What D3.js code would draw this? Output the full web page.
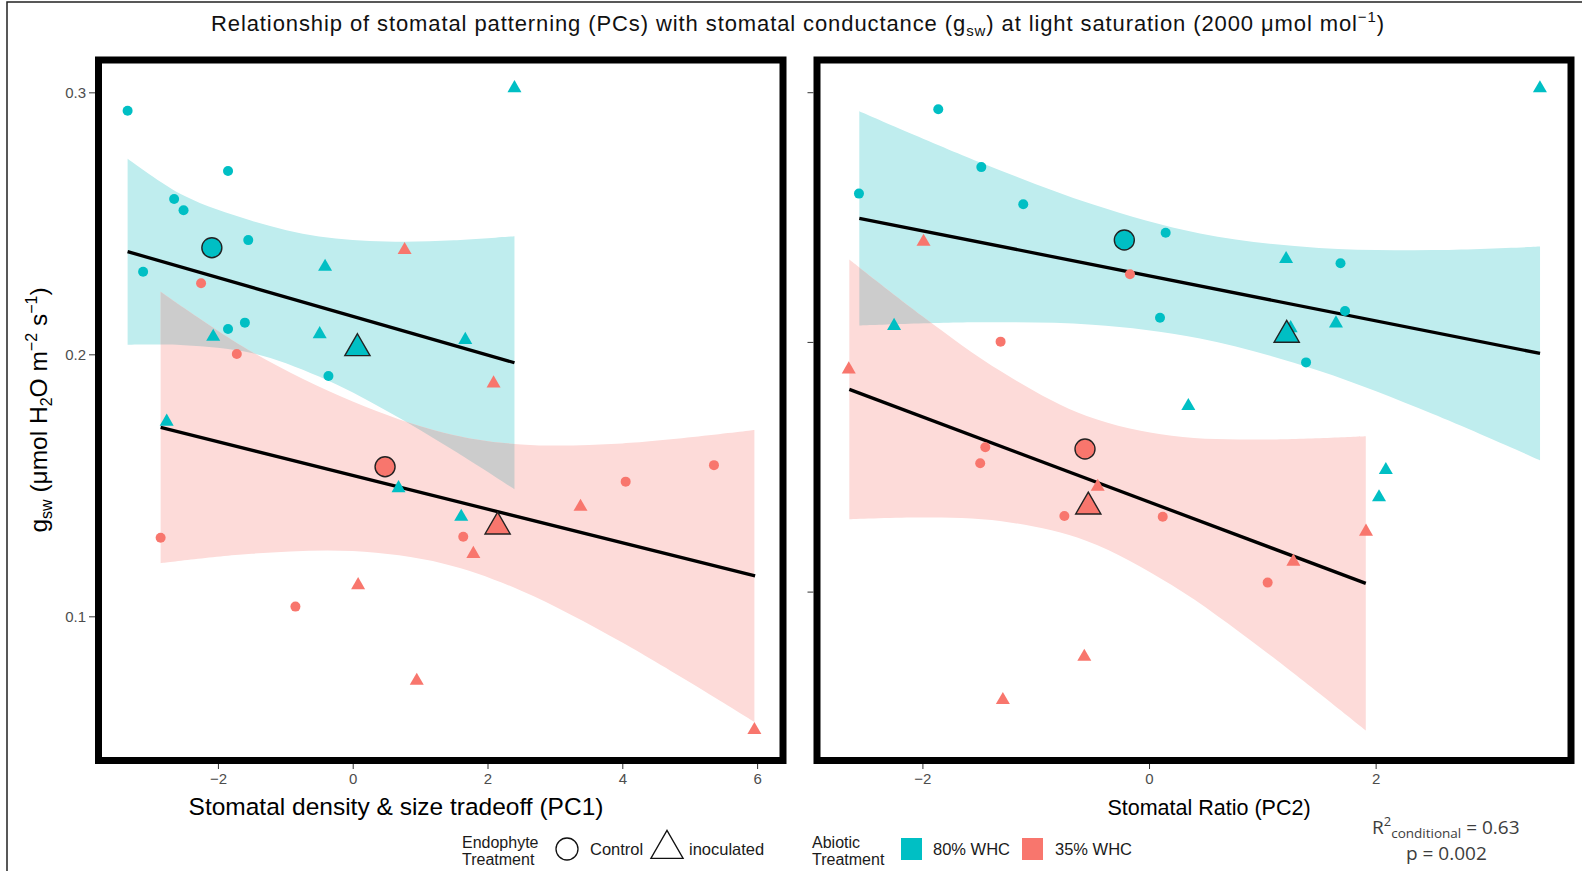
<!DOCTYPE html>
<html>
<head>
<meta charset="utf-8">
<script src="https://cdn.jsdelivr.net/npm/d3@7"></script>
<style>
  body { margin: 0; background: #fff; }
  svg { display: block; font-family: "Liberation Sans", Arial, sans-serif; }
</style>
</head>
<body>
<div id="root"></div>
<script>
// ---- data: [PC, gsw] ----
// PC1 panel
let left80Control = [[-3.34, 0.293], [-1.85, 0.270], [-2.65, 0.2593], [-2.51, 0.255], [-1.55, 0.2436], [-3.11, 0.2315], [-1.85, 0.2097], [-1.60, 0.2121], [-0.36, 0.1917]];
let left80Inoc = [[2.40, 0.3016], [-0.41, 0.2334], [-0.49, 0.2077], [-2.07, 0.2067], [1.67, 0.2055], [-2.76, 0.1743], [0.68, 0.1489], [1.61, 0.138]];
let left35Control = [[-2.25, 0.2271], [-1.72, 0.2001], [-2.85, 0.130], [-0.85, 0.1037], [1.64, 0.1304], [4.05, 0.1514], [5.36, 0.1577]];
let left35Inoc = [[0.77, 0.2398], [2.09, 0.1889], [3.38, 0.1418], [1.79, 0.1238], [0.08, 0.1119], [0.95, 0.0754], [5.96, 0.0566]];
// group means: 80 control, 80 inoculated, 35 control, 35 inoculated
let leftMeans = [[-2.09, 0.2407], [0.07, 0.2023], [0.48, 0.1571], [2.15, 0.1342]];
let leftFit80 = [[-3.34, 0.2392], [2.40, 0.1968]];
let leftFit35 = [[-2.85, 0.1721], [5.97, 0.1154]];
// confidence bands: [PC, lower, upper]
let leftBand80 = [[-3.34, 0.2037, 0.2747], [-2.5, 0.2035, 0.2605], [-1.5, 0.2005, 0.2510], [-0.5, 0.1915, 0.2450], [0.5, 0.1785, 0.2431], [1.5, 0.1633, 0.2435], [2.40, 0.1485, 0.2451]];
let leftBand35 = [[-2.85, 0.1203, 0.2239], [-1.5, 0.1239, 0.2010], [0, 0.1249, 0.1820], [1.35, 0.1201, 0.1701], [2.5, 0.1098, 0.1656], [4, 0.0900, 0.1660], [5.96, 0.0597, 0.1711]];

// PC2 panel
let right80Control = [[-1.86, 0.2932], [-2.56, 0.2594], [-1.48, 0.270], [-1.11, 0.2551], [0.147, 0.2437], [0.097, 0.2097], [1.69, 0.2315], [1.73, 0.2124], [1.386, 0.1918]];
let right80Inoc = [[3.45, 0.3016], [1.21, 0.2332], [1.65, 0.2074], [-2.25, 0.2064], [1.25, 0.2055], [0.347, 0.1743], [2.09, 0.1487], [2.03, 0.1378]];
let right35Control = [[-0.168, 0.2271], [-1.31, 0.2001], [-1.445, 0.1578], [-1.49, 0.1514], [-0.747, 0.1303], [0.121, 0.130], [1.047, 0.1036]];
let right35Inoc = [[-1.99, 0.2401], [-2.65, 0.189], [-0.453, 0.142], [1.274, 0.112], [1.915, 0.124], [-0.571, 0.0739], [-1.29, 0.0566]];
let rightMeans = [[-0.218, 0.2408], [1.215, 0.2028], [-0.565, 0.1571], [-0.536, 0.134]];
let rightFit80 = [[-2.557, 0.2495], [3.451, 0.1954]];
let rightFit35 = [[-2.645, 0.181], [1.913, 0.1033]];
let rightBand80 = [[-2.557, 0.2066, 0.2924], [-1.5, 0.2079, 0.2721], [-0.5, 0.2069, 0.2551], [0.45, 0.2014, 0.2434], [1.5, 0.1884, 0.2376], [2.5, 0.1712, 0.2368], [3.451, 0.1526, 0.2382]];
let rightBand35 = [[-2.645, 0.129, 0.233], [-2, 0.1297, 0.2103], [-1.3, 0.1282, 0.188], [-0.55, 0.1203, 0.1703], [0.2, 0.1026, 0.1624], [1, 0.0769, 0.1609], [1.913, 0.0444, 0.1622]];

// ticks and labels
let leftXTicks = [-2, 0, 2, 4, 6];
let rightXTicks = [-2, 0, 2];
let yTicks = [0.1, 0.2, 0.3];
let waterLabels = ["80% WHC", "35% WHC"];
let endoLabels = ["Control", "inoculated"];

const teal = "#00BFC4", red = "#F8766D";
const tealBand = "#BFEDEE", redBand = "#FDDBD9", overlap = "#CCCCCC";

let svg = d3
  .select("#root")
  .append("svg")
  .attr("width", 1582)
  .attr("height", 871);

// outer frame of the figure
svg.append("rect")
  .attr("x", 7).attr("y", 2)
  .attr("width", 1600).attr("height", 900)
  .attr("fill", "none").attr("stroke", "#222").attr("stroke-width", 1.5);

// title
let title = svg.append("text")
  .attr("x", 798).attr("y", 31)
  .attr("text-anchor", "middle")
  .attr("font-size", 22)
  .attr("letter-spacing", 0.9)
  .attr("fill", "#111");
title.append("tspan").text("Relationship of stomatal patterning (PCs) with stomatal conductance (g");
title.append("tspan").attr("font-size", 15).attr("dy", 5).text("sw");
title.append("tspan").attr("dy", -5).text(") at light saturation (2000 μmol mol");
title.append("tspan").attr("font-size", 15).attr("dy", -9).text("−1");
title.append("tspan").attr("dy", 9).text(")");

const panels = [
  {
    id: "pc1", frame: [98.5, 60, 783, 760.5],
    x: d3.scaleLinear().domain([-3.72, 6.325]).range([102, 779]),
    y: d3.scaleLinear().domain([0.0463, 0.3112]).range([757, 63]),
    xTicks: leftXTicks, yLabels: true,
    c80: left80Control, i80: left80Inoc, c35: left35Control, i35: left35Inoc,
    means: leftMeans, fit80: leftFit80, fit35: leftFit35, band80: leftBand80, band35: leftBand35,
  },
  {
    id: "pc2", frame: [817, 60, 1571, 760.5],
    x: d3.scaleLinear().domain([-2.895, 3.689]).range([821, 1567]),
    y: d3.scaleLinear().domain([0.03376, 0.3117]).range([757, 63]),
    xTicks: rightXTicks, yLabels: false,
    c80: right80Control, i80: right80Inoc, c35: right35Control, i35: right35Inoc,
    means: rightMeans, fit80: rightFit80, fit35: rightFit35, band80: rightBand80, band35: rightBand35,
  },
];

const tri = (size) => d3.symbol(d3.symbolTriangle, size)();

const drawPanel = (p) => {
  let x = p.x, y = p.y;
  let g = svg.append("g");

  let band = d3.area()
    .x((d) => x(d[0]))
    .y0((d) => y(d[1]))
    .y1((d) => y(d[2]))
    .curve(d3.curveCatmullRom.alpha(0.5));
  let line = d3.line().x((d) => x(d[0])).y((d) => y(d[1]));

  // ribbons, overlap shown grey
  g.append("clipPath").attr("id", "clip-" + p.id)
    .append("path").attr("d", band(p.band80));
  g.append("path").attr("d", band(p.band80)).attr("fill", tealBand);
  g.append("path").attr("d", band(p.band35)).attr("fill", redBand);
  g.append("path").attr("d", band(p.band35)).attr("fill", overlap)
    .attr("clip-path", "url(#clip-" + p.id + ")");

  // fitted lines
  [p.fit80, p.fit35].forEach((f) => {
    g.append("path").attr("d", line(f))
      .attr("fill", "none").attr("stroke", "#000").attr("stroke-width", 3.3);
  });

  // raw points
  [[p.c80, teal], [p.c35, red]].forEach(([pts, col]) => {
    g.selectAll(null).data(pts).enter().append("circle")
      .attr("cx", (d) => x(d[0])).attr("cy", (d) => y(d[1]))
      .attr("r", 5).attr("fill", col);
  });
  [[p.i80, teal], [p.i35, red]].forEach(([pts, col]) => {
    g.selectAll(null).data(pts).enter().append("path")
      .attr("d", tri(85))
      .attr("transform", (d) => "translate(" + x(d[0]) + "," + y(d[1]) + ")")
      .attr("fill", col);
  });

  // group means
  let m = p.means;
  [[m[0], teal], [m[2], red]].forEach(([d, col]) => {
    g.append("circle").attr("cx", x(d[0])).attr("cy", y(d[1])).attr("r", 10)
      .attr("fill", col).attr("stroke", "#222").attr("stroke-width", 1.4);
  });
  [[m[1], teal], [m[3], red]].forEach(([d, col]) => {
    g.append("path").attr("d", tri(275))
      .attr("transform", "translate(" + x(d[0]) + "," + y(d[1]) + ")")
      .attr("fill", col).attr("stroke", "#222").attr("stroke-width", 1.4);
  });

  // panel frame
  let [x0, y0, x1, y1] = p.frame;
  g.append("rect").attr("x", x0).attr("y", y0)
    .attr("width", x1 - x0).attr("height", y1 - y0)
    .attr("fill", "none").attr("stroke", "#000").attr("stroke-width", 7);

  // axes
  let yAxis = g.append("g")
    .attr("transform", "translate(" + (x0 - 3.5) + ",0)")
    .call(d3.axisLeft(y).tickValues(yTicks).tickSize(6).tickPadding(3)
      .tickFormat(p.yLabels ? d3.format(".1f") : ""));
  let xAxis = g.append("g")
    .attr("transform", "translate(0," + (y1 + 3.5) + ")")
    .call(d3.axisBottom(x).tickValues(p.xTicks).tickSize(5).tickPadding(4)
      .tickFormat(d3.format("d")));
  [yAxis, xAxis].forEach((a) => {
    a.select(".domain").remove();
    a.selectAll("line").attr("stroke", "#333");
    a.selectAll("text").attr("fill", "#4d4d4d").attr("font-size", 15)
      .attr("font-family", "Liberation Sans, Arial, sans-serif");
  });
};

panels.forEach(drawPanel);

// axis titles
svg.append("text").attr("x", 396).attr("y", 815).attr("text-anchor", "middle")
  .attr("font-size", 24.5).text("Stomatal density & size tradeoff (PC1)");
svg.append("text").attr("x", 1209).attr("y", 815).attr("text-anchor", "middle")
  .attr("font-size", 21.5).text("Stomatal Ratio (PC2)");

let yTitle = svg.append("text")
  .attr("transform", "translate(47,410) rotate(-90)")
  .attr("text-anchor", "middle").attr("font-size", 24.5);
yTitle.append("tspan").text("g");
yTitle.append("tspan").attr("font-size", 16).attr("dy", 5).text("sw");
yTitle.append("tspan").attr("dy", -5).text(" (μmol H");
yTitle.append("tspan").attr("font-size", 16).attr("dy", 5).text("2");
yTitle.append("tspan").attr("dy", -5).text("O m");
yTitle.append("tspan").attr("font-size", 16).attr("dy", -10).text("−2");
yTitle.append("tspan").attr("dy", 10).text(" s");
yTitle.append("tspan").attr("font-size", 16).attr("dy", -10).text("−1");
yTitle.append("tspan").attr("dy", 10).text(")");

// legends
let leg = svg.append("g").attr("font-size", 16).attr("fill", "#1a1a1a");
const twoLine = (xp, a, b) => {
  leg.append("text").attr("x", xp).attr("y", 848).text(a);
  leg.append("text").attr("x", xp).attr("y", 865).text(b);
};
twoLine(462, "Endophyte", "Treatment");
leg.append("circle").attr("cx", 567).attr("cy", 849).attr("r", 11)
  .attr("fill", "none").attr("stroke", "#111").attr("stroke-width", 1.3);
leg.append("text").attr("x", 590).attr("y", 855).attr("font-size", 16.5).text(endoLabels[0]);
leg.append("path").attr("d", tri(450)).attr("transform", "translate(667,849)")
  .attr("fill", "none").attr("stroke", "#111").attr("stroke-width", 1.3);
leg.append("text").attr("x", 689).attr("y", 855).attr("font-size", 16.5).text(endoLabels[1]);

twoLine(812, "Abiotic", "Treatment");
[[901, teal, 933], [1022, red, 1055]].forEach(([sx, col, tx], i) => {
  leg.append("rect").attr("x", sx).attr("y", 838).attr("width", 21).attr("height", 22).attr("fill", col);
  leg.append("text").attr("x", tx).attr("y", 855).attr("font-size", 16.5).text(waterLabels[i]);
});

// model stats
let stat = svg.append("g").attr("font-family", "Open Sans, sans-serif").attr("fill", "#3d3d3d");
let r2 = stat.append("text").attr("x", 1372).attr("y", 834).attr("font-size", 19);
r2.append("tspan").text("R");
r2.append("tspan").attr("font-size", 13).attr("dy", -8).text("2");
r2.append("tspan").attr("font-size", 13.5).attr("dy", 12).text("conditional");
r2.append("tspan").attr("dy", -4).text(" = 0.63");
stat.append("text").attr("x", 1406).attr("y", 860).attr("font-size", 19).text("p = 0.002");
</script>
</body>
</html>
